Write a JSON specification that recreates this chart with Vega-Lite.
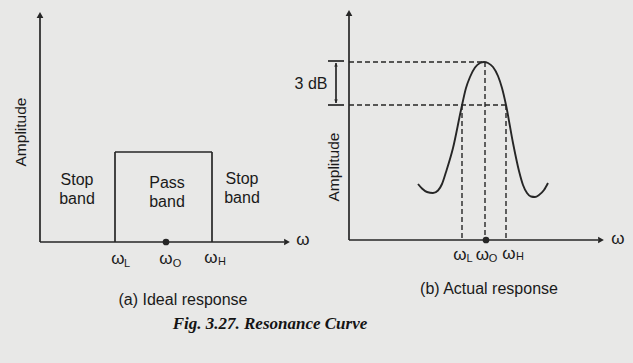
{
  "$schema": "https://vega.github.io/schema/vega-lite/v6.json",
  "width": 633,
  "height": 363,
  "padding": 0,
  "autosize": {"type": "fit", "contains": "padding"},
  "background": "#e8e8e7",
  "config": {"view": {"stroke": null}},
  "datasets": {
    "solid": [
      {"x": 40, "y": 16, "x2": 40, "y2": 242},
      {"x": 40, "y": 242, "x2": 284, "y2": 242},
      {"x": 115, "y": 152, "x2": 115, "y2": 242},
      {"x": 115, "y": 152, "x2": 212, "y2": 152},
      {"x": 212, "y": 152, "x2": 212, "y2": 242},
      {"x": 349, "y": 14, "x2": 349, "y2": 240},
      {"x": 349, "y": 240, "x2": 598, "y2": 240},
      {"x": 328, "y": 61, "x2": 344, "y2": 61},
      {"x": 328, "y": 105, "x2": 344, "y2": 105},
      {"x": 336, "y": 63, "x2": 336, "y2": 103}
    ],
    "dashed": [
      {"x": 349, "y": 62, "x2": 484, "y2": 62},
      {"x": 349, "y": 105, "x2": 506, "y2": 105},
      {"x": 462, "y": 105, "x2": 462, "y2": 240},
      {"x": 485, "y": 62, "x2": 485, "y2": 240},
      {"x": 506, "y": 105, "x2": 506, "y2": 240}
    ],
    "arrows": [
      {"x": 40, "y": 15, "dir": "up"},
      {"x": 287, "y": 242, "dir": "right"},
      {"x": 349, "y": 13, "dir": "up"},
      {"x": 601, "y": 240, "dir": "right"}
    ],
    "smallArrows": [
      {"x": 336, "y": 65, "dir": "up"},
      {"x": 336, "y": 101, "dir": "down"}
    ],
    "dots": [
      {"x": 166, "y": 242},
      {"x": 486, "y": 240}
    ],
    "curve": [
      {"x": 418, "y": 184},
      {"x": 422, "y": 188.5},
      {"x": 427, "y": 192},
      {"x": 433, "y": 193},
      {"x": 438, "y": 190.5},
      {"x": 442, "y": 184},
      {"x": 446, "y": 172},
      {"x": 453, "y": 148},
      {"x": 461, "y": 110},
      {"x": 466, "y": 88},
      {"x": 470, "y": 77},
      {"x": 475, "y": 67.5},
      {"x": 480, "y": 63},
      {"x": 484, "y": 62},
      {"x": 488, "y": 63},
      {"x": 493, "y": 67},
      {"x": 498, "y": 76},
      {"x": 502, "y": 88},
      {"x": 506, "y": 105},
      {"x": 513, "y": 143},
      {"x": 519, "y": 171},
      {"x": 523, "y": 185},
      {"x": 527, "y": 193},
      {"x": 531, "y": 196.5},
      {"x": 535, "y": 197},
      {"x": 539, "y": 195},
      {"x": 544, "y": 190},
      {"x": 548, "y": 183}
    ],
    "texts": [
      {"label": "ω", "x": 303, "y": 240, "role": "omega"},
      {"label": "ω", "x": 618, "y": 239, "role": "omega"},
      {"label": "ω", "x": 118, "y": 259, "role": "omega"},
      {"label": "ω", "x": 166, "y": 259, "role": "omega"},
      {"label": "ω", "x": 211, "y": 258, "role": "omega"},
      {"label": "ω", "x": 460, "y": 255, "role": "omega"},
      {"label": "ω", "x": 482.5, "y": 255, "role": "omega"},
      {"label": "ω", "x": 509, "y": 254, "role": "omega"},
      {"label": "L", "x": 127, "y": 264, "role": "sub"},
      {"label": "O", "x": 177, "y": 264, "role": "sub"},
      {"label": "H", "x": 222, "y": 262, "role": "sub"},
      {"label": "L", "x": 469.5, "y": 258.5, "role": "sub"},
      {"label": "O", "x": 493, "y": 258.5, "role": "sub"},
      {"label": "H", "x": 520, "y": 256.5, "role": "sub"},
      {"label": "Stop", "x": 77, "y": 180, "role": "band"},
      {"label": "band", "x": 77, "y": 199, "role": "band"},
      {"label": "Pass", "x": 167, "y": 183, "role": "band"},
      {"label": "band", "x": 167, "y": 202, "role": "band"},
      {"label": "Stop", "x": 242, "y": 179, "role": "band"},
      {"label": "band", "x": 242, "y": 198, "role": "band"},
      {"label": "3 dB", "x": 311, "y": 84, "role": "band"},
      {"label": "(a) Ideal response", "x": 183, "y": 300, "role": "band"},
      {"label": "(b) Actual response", "x": 489, "y": 289, "role": "band"},
      {"label": "Amplitude", "x": 21, "y": 132, "role": "amp"},
      {"label": "Amplitude", "x": 334, "y": 167, "role": "amp"},
      {"label": "Fig. 3.27. Resonance Curve", "x": 270, "y": 324, "role": "fig"}
    ]
  },
  "encoding": {
    "x": {"field": "x", "type": "quantitative", "scale": {"domain": [0, 633], "nice": false, "zero": false}, "axis": null},
    "y": {"field": "y", "type": "quantitative", "scale": {"domain": [0, 363], "nice": false, "zero": false, "reverse": true}, "axis": null}
  },
  "layer": [
    {
      "data": {"name": "solid"},
      "mark": {"type": "rule", "color": "#262626", "strokeWidth": 1.7},
      "encoding": {"x2": {"field": "x2"}, "y2": {"field": "y2"}}
    },
    {
      "data": {"name": "dashed"},
      "mark": {"type": "rule", "color": "#262626", "strokeWidth": 1.4, "strokeDash": [5, 3]},
      "encoding": {"x2": {"field": "x2"}, "y2": {"field": "y2"}}
    },
    {
      "data": {"name": "curve"},
      "mark": {"type": "line", "color": "#262626", "strokeWidth": 1.9, "interpolate": "monotone"},
      "encoding": {}
    },
    {
      "data": {"name": "arrows"},
      "mark": {"type": "point", "filled": true, "color": "#262626", "size": 45, "opacity": 1},
      "encoding": {
        "shape": {"field": "dir", "type": "nominal", "legend": null,
          "scale": {"domain": ["up", "right", "down"], "range": ["triangle-up", "triangle-right", "triangle-down"]}}
      }
    },
    {
      "data": {"name": "smallArrows"},
      "mark": {"type": "point", "filled": true, "color": "#262626", "size": 14, "opacity": 1},
      "encoding": {
        "shape": {"field": "dir", "type": "nominal", "legend": null,
          "scale": {"domain": ["up", "right", "down"], "range": ["triangle-up", "triangle-right", "triangle-down"]}}
      }
    },
    {
      "data": {"name": "dots"},
      "mark": {"type": "point", "shape": "circle", "filled": true, "color": "#262626", "size": 45, "opacity": 1},
      "encoding": {}
    },
    {
      "data": {"name": "texts"},
      "transform": [{"filter": "datum.role === 'omega'"}],
      "mark": {"type": "text", "font": "Liberation Sans", "fontSize": 17, "color": "#1a1a1a", "align": "center", "baseline": "middle"},
      "encoding": {"text": {"field": "label"}}
    },
    {
      "data": {"name": "texts"},
      "transform": [{"filter": "datum.role === 'sub'"}],
      "mark": {"type": "text", "font": "Liberation Sans", "fontSize": 11, "color": "#1a1a1a", "align": "center", "baseline": "middle"},
      "encoding": {"text": {"field": "label"}}
    },
    {
      "data": {"name": "texts"},
      "transform": [{"filter": "datum.role === 'band'"}],
      "mark": {"type": "text", "font": "Liberation Sans", "fontSize": 16, "color": "#1a1a1a", "align": "center", "baseline": "middle"},
      "encoding": {"text": {"field": "label"}}
    },
    {
      "data": {"name": "texts"},
      "transform": [{"filter": "datum.role === 'amp'"}],
      "mark": {"type": "text", "font": "Liberation Sans", "fontSize": 15.5, "color": "#1a1a1a", "align": "center", "baseline": "middle", "angle": 270},
      "encoding": {"text": {"field": "label"}}
    },
    {
      "data": {"name": "texts"},
      "transform": [{"filter": "datum.role === 'fig'"}],
      "mark": {"type": "text", "font": "Liberation Serif", "fontSize": 17, "fontWeight": "bold", "fontStyle": "italic", "color": "#141414", "align": "center", "baseline": "middle"},
      "encoding": {"text": {"field": "label"}}
    }
  ]
}
